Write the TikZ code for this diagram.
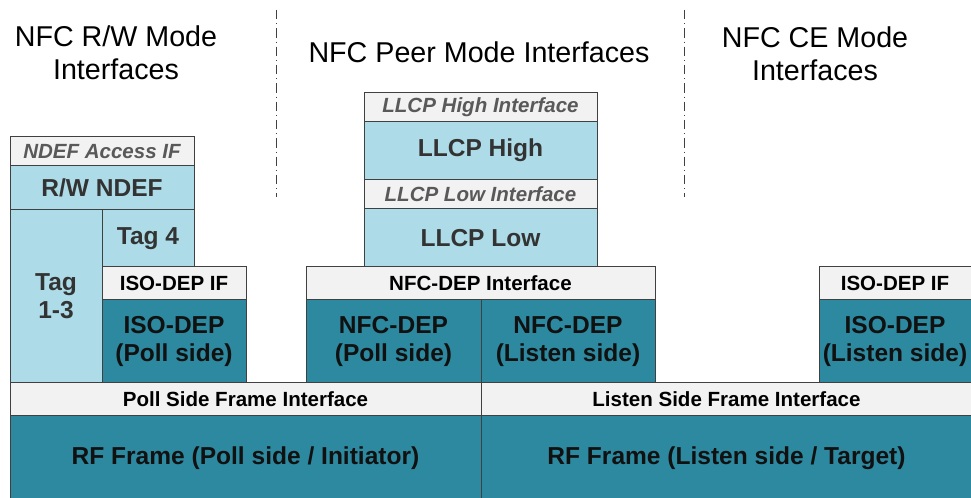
\documentclass[tikz,border=0pt]{standalone}
\usepackage{fontspec}
\setmainfont{Liberation Sans}

\definecolor{ifgray}{HTML}{F2F2F2}
\definecolor{llblue}{HTML}{ADDCE8}
\definecolor{deepteal}{HTML}{2C89A0}
\definecolor{edgegray}{HTML}{404040}
\definecolor{ittext}{HTML}{595959}
\definecolor{lbtext}{HTML}{333333}
\definecolor{dktext}{HTML}{111111}

\tikzset{
  layer/.style={draw=edgegray, line width=0.75pt, inner sep=0pt, align=center},
  ifrow/.style={layer, fill=ifgray, text=black, font=\bfseries\fontsize{15.4}{18}\selectfont},
  itrow/.style={layer, fill=ifgray, text=ittext, font=\bfseries\itshape\fontsize{15.4}{18}\selectfont},
  lrow/.style={layer, fill=llblue, text=lbtext, font=\bfseries\fontsize{18.4}{21}\selectfont},
  trow/.style={layer, fill=deepteal, text=dktext, font=\bfseries\fontsize{18.4}{21}\selectfont},
  title/.style={align=center, font=\fontsize{21.5}{25}\selectfont},
  sepline/.style={draw=edgegray, line width=0.75pt, dash pattern=on 7pt off 3pt on 0.75pt off 3pt}
}

\begin{document}
\begin{tikzpicture}[x=0.75pt, y=-0.75pt]
\useasboundingbox (0,0) rectangle (971,498);

% Titel der drei Bereiche
\node[title] (rwtitle) at (116,53) {NFC R/W Mode\\Interfaces};
\node[title] (peertitle) at (479,52) {NFC Peer Mode Interfaces};
\node[title] (cetitle) at (815,54) {NFC CE Mode\\Interfaces};

% Trennlinien
\coordinate (sepatop) at (276,10);
\coordinate (sepabot) at (276,197);
\coordinate (sepbtop) at (684,10);
\coordinate (sepbbot) at (684,197);
\draw[sepline] (sepatop) -- (sepabot);
\draw[sepline] (sepbtop) -- (sepbbot);

% Bloecke: Name / links / oben / rechts / unten / Stil / Text
\foreach \name/\xa/\ya/\xb/\yb/\kind/\txt in {
    ndefif/10/137/194/166/itrow/{NDEF Access IF},
    rwndef/10/166/194/210/lrow/{R/W NDEF},
    tagone/10/210/102/383/lrow/{Tag\\1-3},
    tagfour/102/210/194/267/lrow/{Tag 4},
    isopif/102/267/246/300/ifrow/{ISO-DEP IF},
    isopoll/102/300/246/383/trow/{ISO-DEP\\(Poll side)},
    llhif/364/93/597/122/itrow/{LLCP High Interface},
    llhigh/364/122/597/180/lrow/{\raisebox{5pt}{LLCP High}},
    lllif/364/180/597/209/itrow/{LLCP Low Interface},
    lllow/364/209/597/267/lrow/{LLCP Low},
    nfcif/306/267/655/300/ifrow/{NFC-DEP Interface},
    nfcpoll/306/300/481/383/trow/{NFC-DEP\\(Poll side)},
    nfclis/481/300/655/383/trow/{NFC-DEP\\(Listen side)},
    isolif/819/267/971/300/ifrow/{ISO-DEP IF},
    isolis/819/300/971/383/trow/{ISO-DEP\\(Listen side)},
    pollif/10/383/481/416/ifrow/{Poll Side Frame Interface},
    lisif/481/383/972/416/ifrow/{Listen Side Frame Interface},
    pollrf/10/416/481/500/trow/{RF Frame (Poll side / Initiator)},
    lisrf/481/416/972/500/trow/{RF Frame (Listen side / Target)}} {

    \pgfmathsetmacro{\bw}{(\xb-\xa)*0.75}
    \pgfmathsetmacro{\bh}{(\yb-\ya)*0.75}
    \node[\kind, minimum width=\bw pt, minimum height=\bh pt]
        (\name) at ({(\xa+\xb)/2},{(\ya+\yb)/2}) {\txt};
}
\end{tikzpicture}
\end{document}
